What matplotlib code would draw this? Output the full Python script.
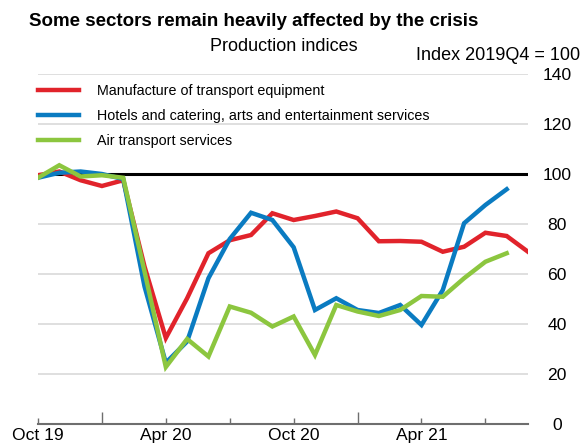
import matplotlib
matplotlib.use("Agg")
import matplotlib.pyplot as plt
from matplotlib.lines import Line2D

plt.rcParams['font.family'] = ['Liberation Sans', 'DejaVu Sans']

months = list(range(24))  # Oct 19 .. Sep 21
transport_equipment = [99.5, 101, 97.5, 95.2, 97.5, 63, 34.4, 50.3, 68.3, 73.5, 75.6, 84.3,
                       81.6, 83.2, 85, 82.3, 73.1, 73.2, 72.9, 68.9, 70.9, 76.5, 75.2, 68.9]
hotels_arts = [98.5, 100.5, 101, 100, 98, 55, 24.5, 33, 58.3, 74, 84.5, 81.6,
               70.7, 45.6, 50.3, 45.6, 44.4, 47.6, 39.6, 53.6, 80.3, 87.6, 93.9]
air_transport = [98.5, 103.5, 99, 99.5, 98.5, 61, 22.8, 34, 27, 47, 44.5, 39,
                 43, 27.6, 47.6, 45, 43.2, 45.6, 51.2, 50.9, 58.3, 64.9, 68.3]
series_names = ["Manufacture of transport equipment",
                "Hotels and catering, arts and entertainment services",
                "Air transport services"]
colors = ["#E1232B", "#0A7BC1", "#8CC63F"]
tick_pos = [0, 3, 6, 9, 12, 15, 18, 21]
tick_labels = ["Oct 19", "", "Apr 20", "", "Oct 20", "", "Apr 21", ""]
yticks = [0, 20, 40, 60, 80, 100, 120, 140]

W, H = 582, 444
fig = plt.figure(figsize=(W/100, H/100), dpi=100)
ax = fig.add_axes([38/W, 1-424/H, (528-38)/W, (424-74)/H])
ax.set_xlim(0, 23)
ax.set_ylim(0, 140)

for y in yticks:
    if y in (0, 100):
        continue
    ax.axhline(y, color="#D9D9D9", lw=1.2, zorder=1)
ax.axhline(100, color="black", lw=2.2, zorder=2)

data = [transport_equipment, hotels_arts, air_transport]
for vals, c, name in zip(data, colors, series_names):
    ax.plot(months[:len(vals)], vals, color=c, lw=3.2, solid_joinstyle='miter', zorder=3, label=name)

for s in ["top", "left", "right"]:
    ax.spines[s].set_visible(False)
ax.spines["bottom"].set_color("#6E6E6E")
ax.spines["bottom"].set_linewidth(1.5)

ax.yaxis.tick_right()
ax.set_yticks(yticks)
ax.set_yticklabels([str(v) for v in yticks], fontsize=12.6)
ax.tick_params(axis='y', length=0, pad=21)
for lab in ax.get_yticklabels():
    lab.set_horizontalalignment('center')

ax.set_xticks(tick_pos)
ax.set_xticklabels(tick_labels, fontsize=12.6)
ax.tick_params(axis='x', direction='in', length=4, width=1, color="#6E6E6E", pad=3)
for t, p in zip(ax.xaxis.get_major_ticks(), tick_pos):
    if p in (3, 15):
        t.tick1line.set_markersize(9)

handles = [Line2D([0], [0], color=c, lw=3.2) for c in colors]
leg = ax.legend(handles, series_names, loc="upper left", bbox_to_anchor=(0.0, 0.972),
                frameon=False, fontsize=10.3, handlelength=2.9, handletextpad=1.2,
                labelspacing=0.78, borderaxespad=0.0, borderpad=0.0)

fig.text(254/W, 1-22/H, "Some sectors remain heavily affected by the crisis",
         ha="center", va="center", fontsize=13.5, fontweight="bold")
fig.text(284/W, 1-46/H, "Production indices", ha="center", va="center", fontsize=13)
fig.text(580/W, 1-56/H, "Index 2019Q4 = 100", ha="right", va="center", fontsize=13)

fig.savefig("out.png", dpi=100)
